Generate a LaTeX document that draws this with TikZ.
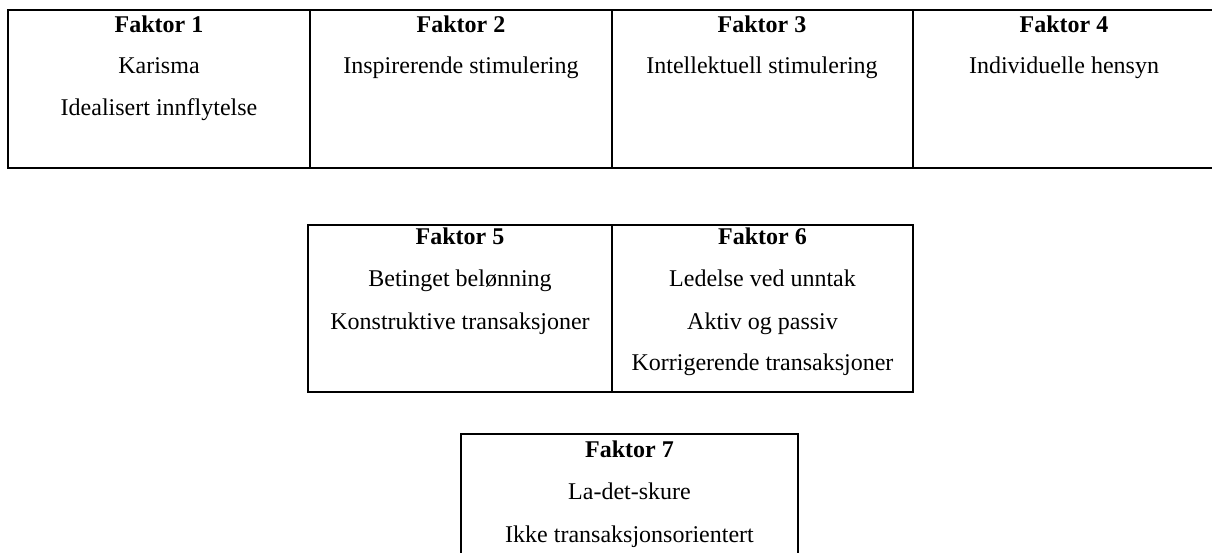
\documentclass[tikz,border=0pt]{standalone}
\usepackage{fontspec}
\setmainfont{Liberation Serif}
\begin{document}
\begin{tikzpicture}[x=1pt,y=-1pt,
  txt/.style={anchor=base,inner sep=0pt,font=\fontsize{24}{29}\selectfont},
  head/.style={txt,font=\fontsize{24}{29}\selectfont\bfseries},
  rule/.style={line width=2pt,line cap=rect}]
\useasboundingbox (0,0) rectangle (1212,553);
% top table
\draw[rule] (1216,10) -- (8,10) -- (8,168) -- (1216,168);
\draw[rule] (310,10) -- (310,168);
\draw[rule] (612,10) -- (612,168);
\draw[rule] (913,10) -- (913,168);
\node[head] (f1) at (159,33) {Faktor 1};
\node[txt] (f1a) at (159,74) {Karisma};
\node[txt] (f1b) at (159,116) {Idealisert innflytelse};
\node[head] (f2) at (461,33) {Faktor 2};
\node[txt] (f2a) at (461,74) {Inspirerende stimulering};
\node[head] (f3) at (762,33) {Faktor 3};
\node[txt] (f3a) at (762,74) {Intellektuell stimulering};
\node[head] (f4) at (1064,33) {Faktor 4};
\node[txt] (f4a) at (1064,74) {Individuelle hensyn};
% middle table
\draw[rule] (308,225) rectangle (913,392);
\draw[rule] (612,225) -- (612,392);
\node[head] (f5) at (460,245) {Faktor 5};
\node[txt] (f5a) at (460,287) {Betinget belønning};
\node[txt] (f5b) at (460,329) {Konstruktive transaksjoner};
\node[head] (f6) at (762.5,245) {Faktor 6};
\node[txt] (f6a) at (762.5,287) {Ledelse ved unntak};
\node[txt] (f6b) at (762.5,329) {Aktiv og passiv};
\node[txt] (f6c) at (762.5,370) {Korrigerende transaksjoner};
% bottom table
\draw[rule] (461,560) -- (461,434) -- (798,434) -- (798,560);
\node[head] (f7) at (629.5,457) {Faktor 7};
\node[txt] (f7a) at (629.5,499) {La-det-skure};
\node[txt] (f7b) at (629.5,542) {Ikke transaksjonsorientert};
\end{tikzpicture}
\end{document}
